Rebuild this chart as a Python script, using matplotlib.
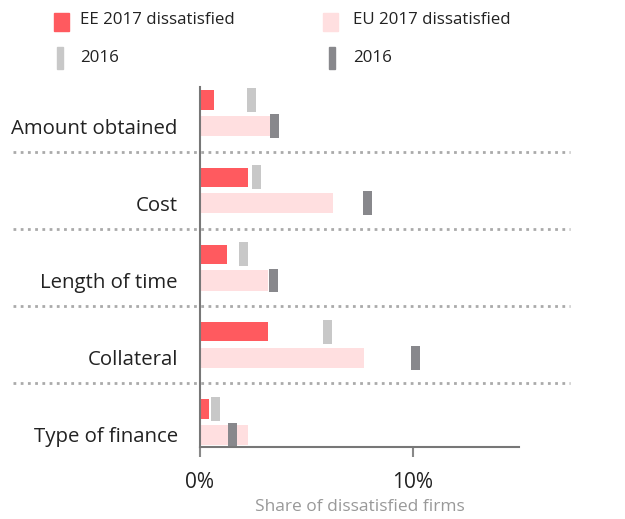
import matplotlib.pyplot as plt
import matplotlib.patches as mpatches
from matplotlib.transforms import blended_transform_factory

plt.rcParams['font.family'] = ['Open Sans', 'DejaVu Sans']

categories = ['Amount obtained', 'Cost', 'Length of time', 'Collateral', 'Type of finance']
ee_2017 = [0.67, 2.28, 1.27, 3.2, 0.42]
ee_2016 = [2.41, 2.65, 2.04, 5.98, 0.75]
eu_2017 = [3.28, 6.27, 3.19, 7.69, 2.25]
eu_2016 = [3.49, 7.88, 3.47, 10.15, 1.52]
x_ticks = [0, 10]
x_tick_labels = ['0%', '10%']

red = '#ff5a5f'
pink = '#ffdfe0'
light_grey = '#c8c8c8'
dark_grey = '#88888c'
text_col = '#222222'

fig = plt.figure(figsize=(6.25, 5.19), dpi=100)
ax = fig.add_axes([0.32, 0.1387, 0.5104, 0.6937])

ee_off = -0.338
marker_w = 0.42
marker_h = 0.31

for i in range(len(categories)):
    ax.barh(i + ee_off, ee_2017[i], height=0.25, color=red)
    ax.barh(i, eu_2017[i], height=0.26, color=pink)
    ax.barh(i + ee_off, marker_w, left=ee_2016[i] - marker_w / 2,
            height=marker_h, color=light_grey)
    ax.barh(i, marker_w, left=eu_2016[i] - marker_w / 2,
            height=marker_h, color=dark_grey)

# dotted separators across the whole figure width
trans = blended_transform_factory(fig.transFigure, ax.transData)
for i in range(len(categories) - 1):
    y = i + (1 + ee_off) / 2
    ax.plot([0.02, 0.912], [y, y], transform=trans, color='#aaaaaa',
            linestyle=(0, (1, 1.6)), linewidth=2, clip_on=False)

ax.set_xlim(0, 15)
ax.set_ylim(4.156, -0.506)
ax.set_yticks(range(len(categories)))
ax.set_yticklabels(categories, fontsize=14.7, color=text_col)
ax.tick_params(axis='y', length=0, pad=16)
ax.set_xticks(x_ticks)
ax.set_xticklabels(x_tick_labels, fontsize=15, color=text_col)
ax.tick_params(axis='x', length=7, width=1.5, color='#888888', pad=11)
ax.set_xlabel('Share of dissatisfied firms', fontsize=12.5, color='#999999', labelpad=4)

for side in ['top', 'right']:
    ax.spines[side].set_visible(False)
for side in ['left', 'bottom']:
    ax.spines[side].set_color('#777777')
    ax.spines[side].set_linewidth(1.5)

# legend drawn by hand
fig.patches.append(mpatches.Rectangle((54 / 625, 1 - 31 / 519), 15 / 625, 18 / 519,
                                      transform=fig.transFigure, color=red))
fig.patches.append(mpatches.Rectangle((323 / 625, 1 - 31 / 519), 15 / 625, 18 / 519,
                                      transform=fig.transFigure, color=pink))
fig.patches.append(mpatches.Rectangle((57 / 625, 1 - 69 / 519), 6 / 625, 22 / 519,
                                      transform=fig.transFigure, color=light_grey))
fig.patches.append(mpatches.Rectangle((329 / 625, 1 - 69 / 519), 6 / 625, 22 / 519,
                                      transform=fig.transFigure, color=dark_grey))
legend_fs = 12.2
fig.text(80 / 625, 1 - 20 / 519, 'EE 2017 dissatisfied', fontsize=legend_fs, color=text_col, va='center')
fig.text(353 / 625, 1 - 20 / 519, 'EU 2017 dissatisfied', fontsize=legend_fs, color=text_col, va='center')
fig.text(80 / 625, 1 - 58 / 519, '2016', fontsize=legend_fs, color=text_col, va='center')
fig.text(353 / 625, 1 - 58 / 519, '2016', fontsize=legend_fs, color=text_col, va='center')

fig.savefig('out.png', dpi=100)
